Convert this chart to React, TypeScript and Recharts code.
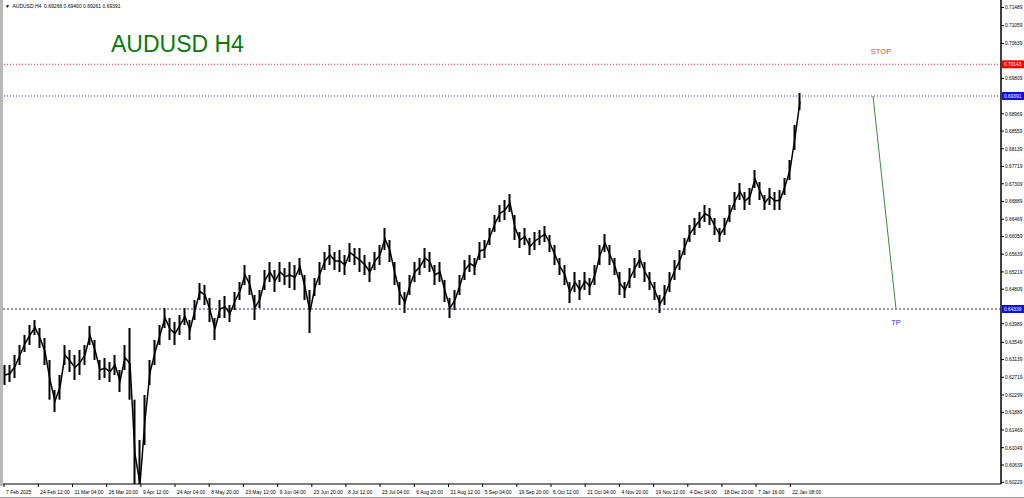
import React from 'react';
import { ComposedChart, Bar, Line, XAxis, YAxis, ReferenceLine, ReferenceDot } from 'recharts';

// H4 price path, sampled (every ~10 bars), high / low per sample
const highs = [
  0.6301, 0.6301, 0.63248, 0.63485, 0.63722, 0.63959, 0.64078, 0.63888, 0.63651, 0.63129,
  0.62417, 0.62773, 0.63485, 0.63366, 0.63248, 0.63366, 0.63485, 0.63935, 0.63603, 0.63129,
  0.63176, 0.63081, 0.63248, 0.62892, 0.63485, 0.63888, 0.62188, 0.61231, 0.62299, 0.63129,
  0.63603, 0.63959, 0.64362, 0.64125, 0.6403, 0.64196, 0.64362, 0.64078, 0.64552, 0.64955,
  0.64908, 0.646, 0.64125, 0.64552, 0.64647, 0.64434, 0.64742, 0.64979, 0.65382, 0.65145,
  0.64671, 0.64789, 0.65264, 0.65453, 0.65264, 0.65453, 0.65311, 0.65453, 0.65382, 0.65548,
  0.65145, 0.64789, 0.65074, 0.65453, 0.65691, 0.65857, 0.65691, 0.65738, 0.6562, 0.65904,
  0.65785, 0.65785, 0.6562, 0.65453, 0.65691, 0.65857, 0.6626, 0.65975, 0.65453, 0.64979,
  0.64742, 0.65145, 0.65453, 0.65548, 0.65785, 0.65691, 0.65382, 0.65453, 0.65026, 0.646,
  0.64789, 0.65145, 0.65501, 0.6562, 0.65548, 0.65928, 0.65975, 0.6626, 0.66568, 0.66806,
  0.66924, 0.67066, 0.66568, 0.66165, 0.6626, 0.66023, 0.66165, 0.66213, 0.66307, 0.66094,
  0.65857, 0.65548, 0.65382, 0.64979, 0.65216, 0.65026, 0.65216, 0.65074, 0.65382, 0.65857,
  0.66118, 0.65857, 0.65548, 0.65216, 0.64979, 0.65311, 0.65548, 0.65738, 0.65453, 0.65216,
  0.64979, 0.64671, 0.64908, 0.65216, 0.65501, 0.65738, 0.66023, 0.66331, 0.66497, 0.6664,
  0.66806, 0.66734, 0.66497, 0.6626, 0.66497, 0.66806, 0.67114, 0.67327, 0.67114, 0.67209,
  0.67636, 0.67351, 0.67043, 0.67209, 0.67114, 0.67161, 0.67446, 0.67873, 0.68703, 0.69462,
];
const lows = [
  0.62536, 0.62607, 0.62702, 0.6301, 0.63319, 0.63485, 0.63722, 0.63413, 0.6301, 0.62188,
  0.61895, 0.62188, 0.6301, 0.62844, 0.62655, 0.62773, 0.6301, 0.63485, 0.63129, 0.62655,
  0.62702, 0.62607, 0.62773, 0.6237, 0.62892, 0.62188, 0.596, 0.5914, 0.61113, 0.62536,
  0.6301, 0.63485, 0.63888, 0.63603, 0.63485, 0.63722, 0.63959, 0.63603, 0.64078, 0.64552,
  0.64434, 0.6403, 0.63603, 0.64125, 0.64125, 0.6403, 0.64315, 0.64552, 0.64908, 0.64671,
  0.64078, 0.64362, 0.64789, 0.64979, 0.64742, 0.64979, 0.64908, 0.64837, 0.64789, 0.65145,
  0.64552, 0.63769, 0.64647, 0.64908, 0.65264, 0.65382, 0.65264, 0.65216, 0.65145, 0.65453,
  0.65382, 0.65216, 0.65145, 0.64979, 0.65264, 0.65382, 0.65738, 0.65453, 0.64908, 0.64434,
  0.64244, 0.64671, 0.64979, 0.65145, 0.65311, 0.65216, 0.64908, 0.64979, 0.64505, 0.64125,
  0.64315, 0.64671, 0.65026, 0.65216, 0.65145, 0.65501, 0.65548, 0.65857, 0.66165, 0.66402,
  0.6645, 0.6664, 0.65975, 0.65785, 0.65857, 0.6562, 0.65738, 0.65857, 0.65928, 0.65691,
  0.65382, 0.65145, 0.64908, 0.64481, 0.64742, 0.64552, 0.64789, 0.64671, 0.64908, 0.65382,
  0.65691, 0.65382, 0.65145, 0.64671, 0.646, 0.64837, 0.65074, 0.65311, 0.64979, 0.64789,
  0.64552, 0.64244, 0.64434, 0.64742, 0.65026, 0.65264, 0.6562, 0.65928, 0.66094, 0.6626,
  0.66402, 0.66331, 0.66094, 0.65928, 0.66094, 0.66402, 0.66687, 0.66924, 0.66687, 0.66806,
  0.67209, 0.66924, 0.66687, 0.66806, 0.66687, 0.66687, 0.67043, 0.67398, 0.6811, 0.69059,
];

const timeLabels = [
  '7 Feb 2025', '24 Feb 12:00', '11 Mar 04:00', '26 Mar 20:00', '9 Apr 12:00', '24 Apr 04:00',
  '8 May 20:00', '23 May 12:00', '9 Jun 04:00', '23 Jun 20:00', '8 Jul 12:00', '23 Jul 04:00',
  '6 Aug 20:00', '21 Aug 12:00', '5 Sep 04:00', '19 Sep 20:00', '6 Oct 12:00', '21 Oct 04:00',
  '4 Nov 20:00', '19 Nov 12:00', '4 Dec 04:00', '18 Dec 20:00', '7 Jan 16:00', '22 Jan 08:00',
];
// sample position of each time label
const timeTickPos = [
  -0.2, 6.66, 13.5, 20.34, 27.18, 34, 40.84, 47.68, 54.52, 61.36, 68.18, 75.02,
  81.86, 88.7, 95.54, 102.36, 109.2, 116.04, 122.88, 129.72, 136.56, 143.38, 150.22, 157.06,
];

const priceTicks = [
  0.71489, 0.71059, 0.70639, 0.69809, 0.68969, 0.68559, 0.68139, 0.67719, 0.67309, 0.66889,
  0.66469, 0.66059, 0.65639, 0.65219, 0.64809, 0.63989, 0.63549, 0.63139, 0.62719, 0.62299,
  0.61889, 0.61469, 0.61049, 0.60639, 0.60229,
];

const stopPrice = 0.70143;
const entryPrice = 0.69391;
const tpPrice = 0.64339;
const header = 'AUDUSD,H4  0.69266 0.69400 0.69261 0.69391';

const data = highs.map((hi, i) => ({ i, hi, lo: lows[i] }));

const FONT = '"Liberation Sans", Arial, sans-serif';

function TimeTick({ x, y, index }: any) {
  return (
    <g>
      <line x1={x} x2={x} y1={y} y2={y + 3} stroke="#000" strokeWidth={1} />
      <text x={x + 2} y={y + 9.5} fontSize={5} fontFamily={FONT} fill="#000">
        {timeLabels[index]}
      </text>
    </g>
  );
}

function PriceTick({ x, y, payload }: any) {
  return (
    <g>
      <line x1={x} x2={x + 3} y1={y} y2={y} stroke="#000" strokeWidth={1} />
      <text x={x + 4} y={y + 1.8} fontSize={4.8} fontFamily={FONT} fill="#000">
        {payload.value.toFixed(5)}
      </text>
    </g>
  );
}

function PriceTag({ viewBox, bg, text }: any) {
  const x = viewBox.x + viewBox.width;
  const y = viewBox.y;
  return (
    <g>
      <rect x={x + 1} y={y - 4} width={22} height={8} fill={bg} />
      <text x={x + 3} y={y + 1.8} fontSize={4.8} fontFamily={FONT} fill="#fff">
        {text}
      </text>
    </g>
  );
}

function Note({ cx, cy, text, color }: any) {
  return (
    <text x={cx} y={cy} fontSize={7.5} fontFamily={FONT} fill={color} textAnchor="middle">
      {text}
    </text>
  );
}

export default function App() {
  return (
    <div style={{ position: 'absolute', left: 0, top: 0, width: 1024, height: 498, background: '#fff' }}>
      <ComposedChart
        width={1024}
        height={498}
        data={data}
        margin={{ top: 0, right: 0, bottom: 0, left: 3 }}
      >
        <XAxis
          dataKey="i"
          type="number"
          domain={[-0.4, 199.2]}
          allowDataOverflow
          ticks={timeTickPos}
          interval={0}
          height={14}
          tickSize={0}
          tickMargin={0}
          tick={<TimeTick />}
          axisLine={{ stroke: '#000', strokeWidth: 1 }}
        />
        <YAxis
          orientation="right"
          type="number"
          domain={[0.60188, 0.71668]}
          allowDataOverflow
          ticks={priceTicks}
          interval={0}
          width={23}
          tickSize={0}
          tickMargin={0}
          tick={<PriceTick />}
          axisLine={{ stroke: '#000', strokeWidth: 1.5 }}
        />
        <ReferenceLine
          y={stopPrice}
          stroke="#ff3030"
          strokeDasharray="1 2"
          label={<PriceTag bg="#ff0000" text={stopPrice.toFixed(5)} />}
        />
        <ReferenceLine
          y={entryPrice}
          stroke="#2020ff"
          strokeDasharray="1 2"
          label={<PriceTag bg="#1010e0" text={entryPrice.toFixed(5)} />}
        />
        <ReferenceLine
          y={tpPrice}
          stroke="#30305a"
          strokeDasharray="2 2"
          label={<PriceTag bg="#1010e0" text={tpPrice.toFixed(5)} />}
        />
        <ReferenceLine
          segment={[
            { x: 173.6, y: entryPrice },
            { x: 178.2, y: tpPrice },
          ]}
          stroke="#3a8a3a"
          strokeWidth={1}
          ifOverflow="visible"
        />
        <ReferenceDot x={175.2} y={0.70387} r={0} shape={<Note text="STOP" color="#ff3030" />} />
        <ReferenceDot x={178.2} y={0.63959} r={0} shape={<Note text="TP" color="#3030ff" />} />
        <Bar
          dataKey={(d: any) => [d.lo, d.hi]}
          fill="#000"
          barSize={2}
          isAnimationActive={false}
        />
        <Line
          dataKey={(d: any) => (d.hi + d.lo) / 2}
          stroke="#000"
          strokeWidth={1.5}
          dot={false}
          isAnimationActive={false}
        />
      </ComposedChart>
      <div style={{ position: 'absolute', left: 0, top: 0, width: 3, height: 486, background: '#b8b8b8' }} />
      <div style={{ position: 'absolute', left: 0, top: 497, width: 1024, height: 1, background: '#999' }} />
      <div
        style={{
          position: 'absolute', left: 5, top: 3, fontFamily: FONT, fontSize: 5,
          color: '#000', whiteSpace: 'pre', lineHeight: '7px',
        }}
      >
        {'\u25BC  ' + header}
      </div>
      <div
        style={{
          position: 'absolute', left: 111, top: 30, fontFamily: FONT, fontSize: 23,
          color: '#0a7a0a', lineHeight: '28px', whiteSpace: 'pre',
        }}
      >
        AUDUSD H4
      </div>
    </div>
  );
}
